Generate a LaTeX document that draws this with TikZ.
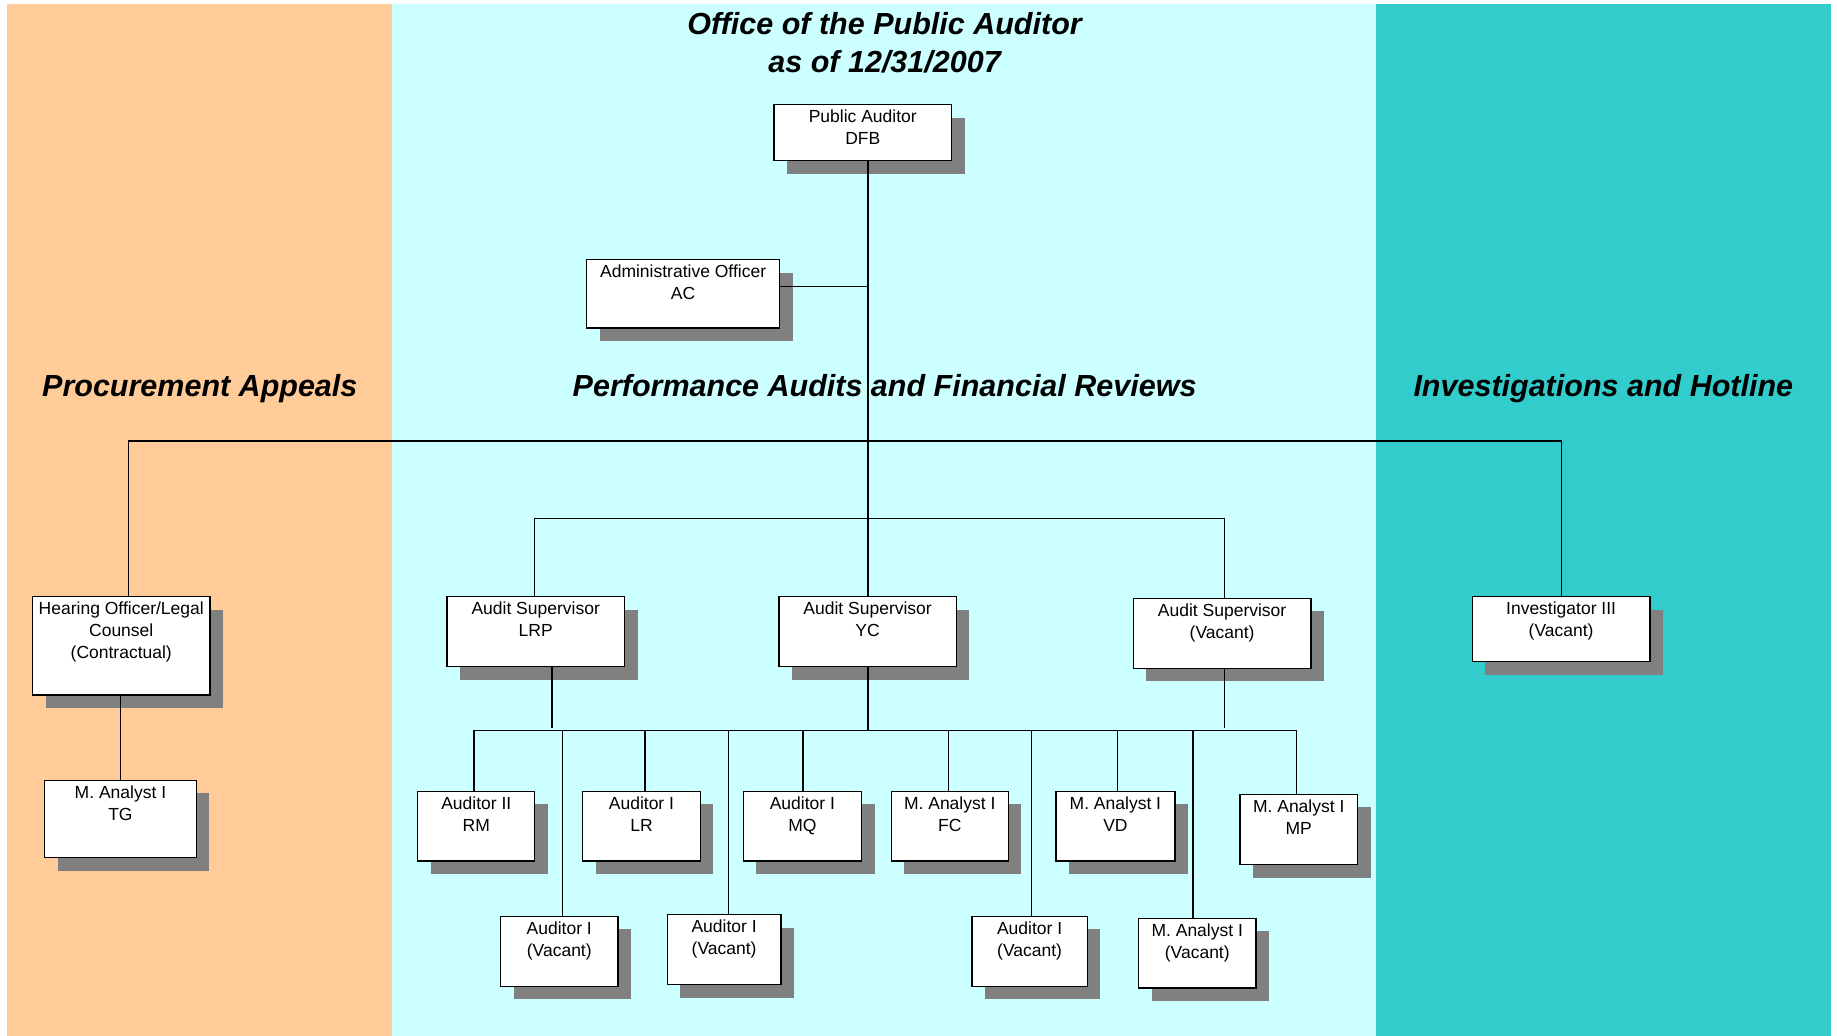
\documentclass[tikz,border=0pt]{standalone}
\usepackage{fontspec}
\setmainfont{Liberation Sans}
\usetikzlibrary{shadows}
\definecolor{bandorange}{HTML}{FFCC99}
\definecolor{bandcyan}{HTML}{CCFFFF}
\definecolor{bandteal}{HTML}{33CCCC}
\definecolor{shadowgray}{HTML}{808080}
\newcommand\inbox[3]{\parbox[c][#2pt][t]{#1pt}{\centering\fontsize{17.5}{21.7}\selectfont\rule{0pt}{18pt}#3}}
\begin{document}
\begin{tikzpicture}[x=1pt,y=-1pt,
  orgbox/.style={draw=black, fill=white, line width=1.2pt, anchor=north west, inner sep=0pt,
    drop shadow={shadow xshift=13pt, shadow yshift=-13pt, fill=shadowgray, opacity=1}},
  conn/.style={draw=black, line width=1.3pt},
  titletext/.style={font=\fontsize{30.5}{38.4}\selectfont\bfseries\itshape, inner sep=0pt, anchor=base}]
\useasboundingbox (0,0) rectangle (1837,1036);
\fill[white] (0,0) rectangle (1837,1036);
\fill[bandorange] (7,4) rectangle (392,1036);
\fill[bandcyan] (392,4) rectangle (1376,1036);
\fill[bandteal] (1376,4) rectangle (1831,1036);

% titles
\node[titletext] (t1) at (884.6,34.3) {Office of the Public Auditor};
\node[titletext] (t2) at (884.6,72.7) {as of 12/31/2007};
\node[titletext] (s1) at (199.8,396) {Procurement Appeals};
\node[titletext] (s2) at (884.6,396) {Performance Audits and Financial Reviews};
\node[titletext] (s3) at (1603.3,396) {Investigations and Hotline};

% boxes
\node[orgbox] (pa) at (773.3,104) {\inbox{177.7}{56}{Public Auditor\\DFB}};
\node[orgbox] (ao) at (586,259) {\inbox{193}{68.3}{Administrative Officer\\AC}};
\node[orgbox] (ho) at (32,596) {\inbox{177.3}{98.3}{Hearing Officer/Legal\\Counsel\\(Contractual)}};
\node[orgbox] (tg) at (44,779.7) {\inbox{151.7}{77.3}{M. Analyst I\\TG}};
\node[orgbox] (lrp) at (446.3,596) {\inbox{177.6}{70}{Audit Supervisor\\LRP}};
\node[orgbox] (yc) at (778.4,596) {\inbox{177.2}{70}{Audit Supervisor\\YC}};
\node[orgbox] (sv) at (1132.7,597.7) {\inbox{177.6}{70}{Audit Supervisor\\(Vacant)}};
\node[orgbox] (inv) at (1471.7,596) {\inbox{177.6}{65}{Investigator III\\(Vacant)}};
\node[orgbox] (rm) at (417.2,790.7) {\inbox{117}{69.6}{Auditor II\\RM}};
\node[orgbox] (a1v) at (499.9,915.7) {\inbox{117.5}{70}{Auditor I\\(Vacant)}};
\node[orgbox] (lr) at (582.1,790.7) {\inbox{117.5}{69.6}{Auditor I\\LR}};
\node[orgbox] (a2v) at (666.7,914) {\inbox{113.7}{70}{Auditor I\\(Vacant)}};
\node[orgbox] (mq) at (742.5,790.7) {\inbox{118.6}{69.6}{Auditor I\\MQ}};
\node[orgbox] (fc) at (890.6,790.7) {\inbox{117.1}{69.6}{M. Analyst I\\FC}};
\node[orgbox] (a3v) at (971.3,915.7) {\inbox{115.4}{70}{Auditor I\\(Vacant)}};
\node[orgbox] (vd) at (1055.3,790.7) {\inbox{119}{69.6}{M. Analyst I\\VD}};
\node[orgbox] (mav) at (1138,917.7) {\inbox{117.3}{69.6}{M. Analyst I\\(Vacant)}};
\node[orgbox] (mp) at (1239.3,793.7) {\inbox{117.7}{70.3}{M. Analyst I\\MP}};

% junction coordinates
\coordinate (aoj) at (868,286.7);
\coordinate (busAL) at (128.7,441);
\coordinate (busAR) at (1561.7,441);
\coordinate (busBL) at (534.3,518.7);
\coordinate (busBM) at (868,518.7);
\coordinate (busBR) at (1224.3,518.7);
\coordinate (dropL) at (551.9,727.7);
\coordinate (dropM) at (868,730.7);
\coordinate (dropR) at (1224.3,727.7);
\coordinate (busCL) at (473.9,730.7);
\coordinate (busCR) at (1296.7,730.7);
\coordinate (j1) at (562.2,730.7);
\coordinate (j2) at (644.9,730.7);
\coordinate (j3) at (728.7,730.7);
\coordinate (j4) at (802.9,730.7);
\coordinate (j5) at (948.7,730.7);
\coordinate (j6) at (1031.7,730.7);
\coordinate (j7) at (1117.3,730.7);
\coordinate (j8) at (1193,730.7);

% connectors
\draw[conn] (pa.south -| busBM) -- (busBM);
\draw[conn] (ao.east |- aoj) -- (aoj);
\draw[conn] (ho.north -| busAL) -- (busAL) -- (busAR) -- (inv.north -| busAR);
\draw[conn] (lrp.north -| busBL) -- (busBL) -- (busBR) -- (sv.north -| busBR);
\draw[conn] (busBM) -- (yc.north -| busBM);
\draw[conn] (ho.south -| tg.north) -- (tg.north);
\draw[conn] (lrp.south -| dropL) -- (dropL);
\draw[conn] (yc.south -| dropM) -- (dropM);
\draw[conn] (sv.south -| dropR) -- (dropR);
\draw[conn] (rm.north -| busCL) -- (busCL) -- (busCR) -- (mp.north -| busCR);
\draw[conn] (j1) -- (a1v.north -| j1);
\draw[conn] (j2) -- (lr.north -| j2);
\draw[conn] (j3) -- (a2v.north -| j3);
\draw[conn] (j4) -- (mq.north -| j4);
\draw[conn] (j5) -- (fc.north -| j5);
\draw[conn] (j6) -- (a3v.north -| j6);
\draw[conn] (j7) -- (vd.north -| j7);
\draw[conn] (j8) -- (mav.north -| j8);
\end{tikzpicture}
\end{document}
